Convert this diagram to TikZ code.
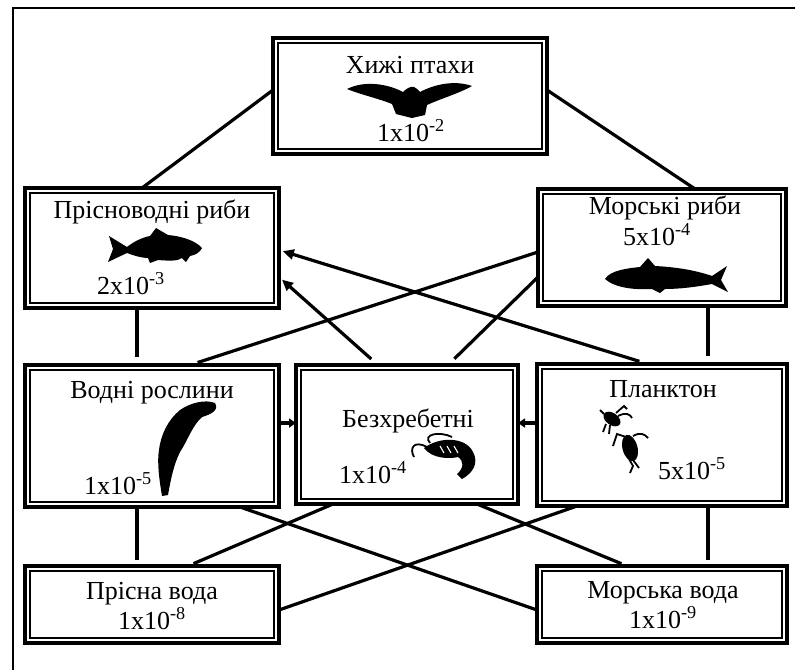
\documentclass[tikz,border=0pt]{standalone}
\usepackage{fontspec}
\setmainfont{Liberation Serif}
\usetikzlibrary{arrows.meta}
\newcommand\labelsize{\fontsize{26}{29}\selectfont}
\begin{document}
\begin{tikzpicture}[x=1pt,y=-1pt,
  box/.style n args={2}{draw, line width=3.4pt, outer sep=0pt, inner sep=0pt,
    minimum width=#1pt, minimum height=#2pt},
  txt/.style={font=\labelsize, inner sep=0pt, anchor=base},
  link/.style={line width=3.2pt},
  feed/.style={link, -{Triangle[length=11pt,width=10pt]}},
  feedshort/.style={link, -{Triangle[length=7pt,width=9pt]}},
  silhouette/.style={fill=black}]
\useasboundingbox (0,0) rectangle (795,670);

% frame of the figure
\draw[line width=2.4pt] (13,670) -- (13,8) -- (795,8);

% trophic levels
\node[box={274}{116}] (birds)    at (410,96)    {};
\node[box={254}{120}] (ffish)    at (152,248)   {};
\node[box={248}{117}] (sfish)    at (662,247.5) {};
\node[box={254}{142}] (plants)   at (152,436)   {};
\node[box={222}{139}] (invert)   at (407,434.5) {};
\node[box={250}{142}] (plankton) at (662,435)   {};
\node[box={254}{77}]  (fwater)   at (152,604.5) {};
\node[box={250}{77}]  (swater)   at (662,604.5) {};

% inner line of the double border
\foreach \n in {birds,ffish,sfish,plants,invert,plankton,fwater,swater}
  \draw[line width=1.7pt] ([shift={(5,5)}]\n.north west)
    rectangle ([shift={(-5,-5)}]\n.south east);

% labels
\node[txt] (birds-t)    at (410,73)  {Хижі птахи};
\node[txt] (birds-v)    at (411,141) {1x10\textsuperscript{-2}};
\node[txt] (ffish-t)    at (152,218) {Прісноводні риби};
\node[txt] (ffish-v)    at (131,294) {2x10\textsuperscript{-3}};
\node[txt] (sfish-t)    at (665,214) {Морські риби};
\node[txt] (sfish-v)    at (657,245) {5x10\textsuperscript{-4}};
\node[txt] (plants-t)   at (152,398) {Водні рослини};
\node[txt] (plants-v)   at (118,494) {1x10\textsuperscript{-5}};
\node[txt] (invert-t)   at (408,427) {Безхребетні};
\node[txt] (invert-v)   at (373,483) {1x10\textsuperscript{-4}};
\node[txt] (plankton-t) at (663,397) {Планктон};
\node[txt] (plankton-v) at (692,479) {5x10\textsuperscript{-5}};
\node[txt] (fwater-t)   at (152,599) {Прісна вода};
\node[txt] (fwater-v)   at (152,629) {1x10\textsuperscript{-8}};
\node[txt] (swater-t)   at (663,598) {Морська вода};
\node[txt] (swater-v)   at (663,628) {1x10\textsuperscript{-9}};

% bird of prey
\fill[silhouette] (347,89) .. controls (365,80) and (388,84) .. (403,92)
  .. controls (406,89) and (410,86) .. (414,87)
  .. controls (417,88) and (418,90) .. (420,92)
  .. controls (435,84) and (455,80) .. (472,86)
  .. controls (460,93) and (440,99) .. (427,105)
  -- (425,115) -- (412,118) -- (396,114) -- (392,104)
  .. controls (380,99) and (362,95) .. (347,89) -- cycle;

% freshwater fish
\fill[silhouette] (202,248) .. controls (195,240) and (180,236) .. (168,235)
  -- (156,228) -- (150,236)
  .. controls (140,238) and (132,243) .. (127,247)
  -- (109,236) -- (113,249) -- (108,262) -- (127,253)
  .. controls (135,256) and (142,258) .. (148,258) -- (150,263) -- (158,260)
  .. controls (170,261) and (178,261) .. (182,258) -- (186,262) -- (190,256)
  .. controls (196,255) and (200,252) .. (202,248) -- cycle;

% sea fish
\fill[silhouette] (605,279) .. controls (610,270) and (630,268) .. (640,267)
  -- (648,258) -- (655,266)
  .. controls (675,267) and (695,270) .. (712,276)
  -- (727,266) -- (721,280) -- (728,292) -- (712,284)
  .. controls (695,287) and (680,289) .. (665,289) -- (660,293) -- (652,289)
  .. controls (635,290) and (615,288) .. (605,279) -- cycle;

% water plant
\fill[silhouette] (215,403) .. controls (219,410) and (212,414) .. (202,417)
  .. controls (192,426) and (188,440) .. (180,452)
  .. controls (174,464) and (171,478) .. (168,495) -- (162,496)
  .. controls (159,478) and (157,462) .. (159,450)
  .. controls (161,434) and (168,420) .. (180,410)
  .. controls (190,403) and (205,399) .. (215,403) -- cycle;

% shrimp
\fill[silhouette] (424,448) .. controls (440,436) and (466,437) .. (473,452)
  .. controls (479,463) and (473,473) .. (462,479) -- (457,474)
  .. controls (464,468) and (464,461) .. (458,457)
  .. controls (450,459) and (432,459) .. (424,448) -- cycle;
\draw[line width=1.8pt] (427,447) .. controls (414,440) and (409,448) .. (414,457);
\draw[line width=1.8pt] (430,443) .. controls (422,434) and (440,431) .. (452,437);
\foreach \sx in {440,447,454}
  \draw[white, line width=1.1pt] (\sx,446) -- (\sx+4,453);

% plankton
\fill[silhouette, rotate around={-35:(612,419)}] (612,419) ellipse (9.5 and 6);
\draw[line width=1.8pt] (616,413) -- (624,406) -- (627,409);
\draw[line width=1.8pt] (618,416) .. controls (626,412) and (630,414) .. (632,418);
\draw[line width=1.8pt] (606,424) -- (603,432);
\draw[line width=1.8pt] (610,425) -- (609,434);
\draw[line width=1.8pt] (604,414) -- (600,410);
\fill[silhouette, rotate around={15:(630,448)}] (630,448) ellipse (7.5 and 13.5);
\draw[line width=1.8pt] (626,437) -- (617,434) -- (613,446);
\draw[line width=1.8pt] (633,436) .. controls (640,432) and (645,434) .. (648,438);
\draw[line width=1.8pt] (629,459) -- (633,466) -- (630,473);
\draw[line width=1.8pt] (633,460) -- (639,468);

% feeding links, upper part
\draw[link] ([yshift=6pt]birds.west) -- ([xshift=-10pt]ffish.north);
\draw[link] ([yshift=6pt]birds.east) -- ([xshift=33pt]sfish.north);
\draw[link, shorten <=8pt] ([xshift=-15pt]plants.north) -- ([xshift=-15pt]ffish.south);
\draw[link, shorten <=8pt] ([xshift=46pt]plankton.north) -- ([xshift=46pt]sfish.south);
\draw[link, shorten <=8pt] ([xshift=38pt]plants.north) -- ([yshift=-4.5pt]sfish.west);
\draw[feed, shorten <=9pt, shorten >=4pt] ([xshift=-29pt]invert.north) -- ([yshift=-29pt]ffish.east);
\draw[link, shorten <=9pt] ([xshift=41pt]invert.north) -- ([yshift=-29.5pt]sfish.west);
\draw[feed, shorten <=9pt, shorten >=4pt] ([xshift=-14pt]plankton.north) -- ([yshift=-2pt]ffish.east);
\draw[feedshort] ([yshift=13pt]plants.east) -- ([yshift=13pt]plants.east -| invert.west);
\draw[feedshort] ([yshift=12pt]plankton.west) -- ([yshift=12pt]plankton.west -| invert.east);

% feeding links, lower part
\draw[link, shorten <=6pt] ([xshift=-15pt]fwater.north) -- ([xshift=-15pt]plants.south);
\draw[link, shorten <=6pt] ([xshift=36pt]fwater.north) -- ([xshift=-74pt]invert.south);
\draw[link] ([yshift=-5.5pt]fwater.east) -- ([xshift=-85pt]plankton.south);
\draw[link] ([yshift=-5.5pt]swater.west) -- ([xshift=88pt]plants.south);
\draw[link, shorten <=6pt] ([xshift=-35pt]swater.north) -- ([xshift=70pt]invert.south);
\draw[link, shorten <=6pt] ([xshift=46pt]swater.north) -- ([xshift=46pt]plankton.south);
\end{tikzpicture}
\end{document}
